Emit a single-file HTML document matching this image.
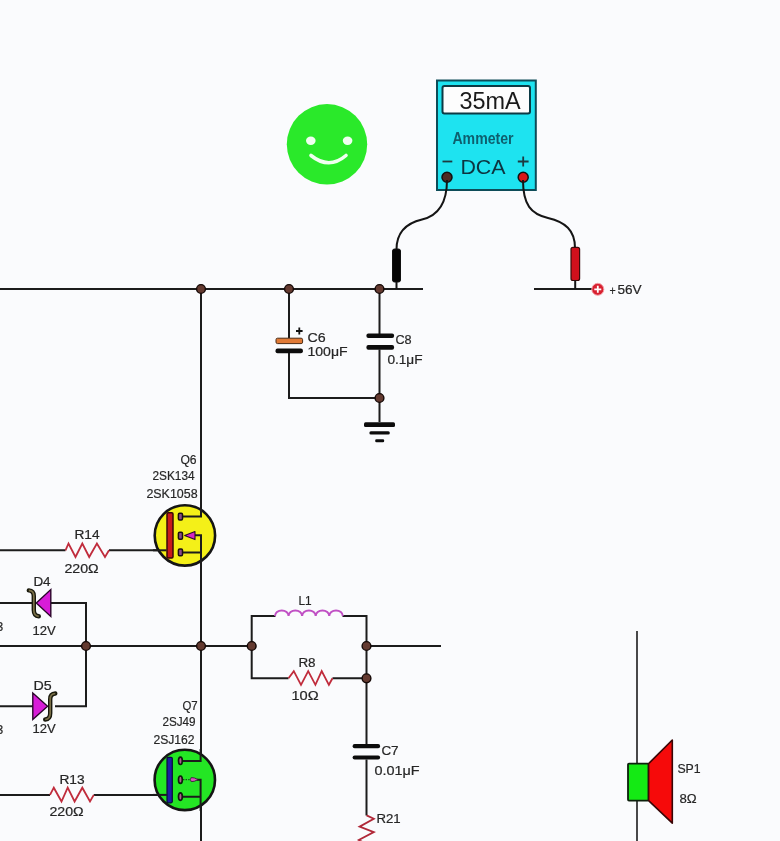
<!DOCTYPE html>
<html><head><meta charset="utf-8"><title>Circuit</title>
<style>
html,body{margin:0;padding:0;background:#fafbfd;}
body{width:780px;height:841px;overflow:hidden;}
svg{display:block;filter:blur(0.3px);}
text{font-family:"Liberation Sans",sans-serif;fill:#262626;}
.tx{filter:blur(0.15px);}
.lb{font-size:11.5px;}
</style></head>
<body>
<svg width="780" height="841" viewBox="0 0 780 841">
<rect width="780" height="841" fill="#fafbfd"/>

<!-- ============ WIRES ============ -->
<g stroke="#1c1c1c" stroke-width="2" fill="none" stroke-linecap="butt">
  <!-- top rail -->
  <path d="M0,289 H423"/>
  <path d="M534,289 H592"/>
  <!-- main vertical -->
  <path d="M201,289 V516.5 H182"/>
  <path d="M201,535 V760.9 M201,779.7 V841"/>
  <!-- C6/C8 -->
  <path d="M289,289 V338 M289,353 V398 H379.5"/>
  <path d="M379.5,289 V334 M379.5,349.5 V422"/>
  <!-- Q6 internals -->
  <path d="M194,535 H201 M182,553 H201"/>
  <!-- R14 gate wire -->
  <path d="M0,550.3 H65.5 M109,550.3 H166.5"/>
  <!-- D4 -->
  <path d="M0,603 H36 M51,603 H86 V706.3 H55"/>
  <path d="M0,706.3 H33"/>
  <!-- mid rail -->
  <path d="M0,646 H251.7 M366.5,646 H441"/>
  <!-- L1 / R8 loops -->
  <path d="M251.7,646 V616 H275.5 M342.5,616 H366.5 V744"/>
  <path d="M251.7,646 V678.3 H288.5 M332.5,678.3 H366.5"/>
  <path d="M366.5,759.5 V815.5"/>
  <!-- Q7 -->
  <path d="M0,794.9 H50 M93.8,794.9 H166.8"/>
  <path d="M197,779.7 H201 M182,796.7 H201"/>
  <!-- speaker line -->
  <path d="M637,631 V841" stroke-width="1.6"/>
</g>

<!-- ============ NODES ============ -->
<g fill="#643a30" stroke="#140806" stroke-width="1.4">
  <circle cx="201" cy="289" r="4.4"/>
  <circle cx="289" cy="289" r="4.4"/>
  <circle cx="379.5" cy="289" r="4.4"/>
  <circle cx="379.5" cy="398" r="4.4"/>
  <circle cx="86" cy="646" r="4.4"/>
  <circle cx="201" cy="646" r="4.4"/>
  <circle cx="251.7" cy="646" r="4.4"/>
  <circle cx="366.5" cy="646" r="4.4"/>
  <circle cx="366.5" cy="678.3" r="4.4"/>
</g>

<!-- ============ SMILEY ============ -->
<circle cx="327" cy="144.3" r="40.2" fill="#2ae92a"/>
<ellipse cx="310.8" cy="140.7" rx="4.8" ry="4.2" fill="#f0fff0"/>
<ellipse cx="347.6" cy="140.7" rx="4.8" ry="4.2" fill="#f0fff0"/>
<path d="M311,155.5 Q329,170 346,155.5" stroke="#f0fff0" stroke-width="3.6" fill="none" stroke-linecap="round"/>

<!-- ============ AMMETER ============ -->
<rect x="437" y="80.5" width="98.8" height="109.5" fill="#1ee3f0" stroke="#0d4c58" stroke-width="2"/>
<rect x="442.5" y="86" width="87.5" height="27.5" rx="2" fill="#fdfdfd" stroke="#0d3a44" stroke-width="2"/>
<path d="M442.5,161.5 H452.3" stroke="#1d3a40" stroke-width="1.8"/>
<path d="M517.8,161.5 H528.6 M523.2,156.5 V166.5" stroke="#1d3a40" stroke-width="1.8"/>
<circle cx="447" cy="177.2" r="5" fill="#4e2a22" stroke="#111" stroke-width="1.5"/>
<circle cx="523.2" cy="177.2" r="5" fill="#d81818" stroke="#111" stroke-width="1.5"/>

<!-- probe leads -->
<path d="M447,180 C447,205 437,216 422,219.5 S396.5,232 396.5,249.5" stroke="#151515" stroke-width="2" fill="none"/>
<path d="M523,180 C523,205 531,214 548,218 S575,230 575,248" stroke="#151515" stroke-width="2" fill="none"/>
<rect x="392.5" y="249" width="8" height="33" rx="2" fill="#050505" stroke="#111" stroke-width="1"/>
<path d="M396.5,282 V289" stroke="#151515" stroke-width="2"/>
<rect x="571" y="247.3" width="8.6" height="33.2" rx="2" fill="#d0101c" stroke="#3a0a0a" stroke-width="1.2"/>
<path d="M575.2,280.5 V289" stroke="#151515" stroke-width="2"/>
<!-- +56V terminal -->
<circle cx="597.8" cy="289.3" r="6" fill="#d82030" stroke="#f3a0a8" stroke-width="1"/>
<path d="M594.3,289.3 H601.3 M597.8,285.8 V292.8" stroke="#fff" stroke-width="1.8"/>

<!-- ============ C6 / C8 ============ -->
<rect x="276" y="338.2" width="26.6" height="5.4" rx="1.5" fill="#e07a36" stroke="#4a2a14" stroke-width="1"/>
<rect x="275.5" y="348.6" width="27.4" height="4.7" rx="2" fill="#0c0c0c"/>
<path d="M296,331 H302.6 M299.3,327.6 V334.4" stroke="#111" stroke-width="1.8"/>
<rect x="366.4" y="333.4" width="27.7" height="4.7" rx="2" fill="#0c0c0c"/>
<rect x="366.4" y="345" width="27.7" height="4.7" rx="2" fill="#0c0c0c"/>
<!-- ground -->
<rect x="364" y="422.2" width="31" height="4.8" rx="1.5" fill="#0c0c0c"/>
<rect x="369.4" y="431.3" width="20.4" height="3.3" rx="1.5" fill="#0c0c0c"/>
<rect x="375.2" y="439.3" width="9" height="2.9" rx="1.3" fill="#0c0c0c"/>

<!-- ============ Q6 ============ -->
<circle cx="184.9" cy="535.4" r="30.2" fill="#f4f018" stroke="#151515" stroke-width="2.6"/>
<path d="M201,505 V516.5 H182.5" stroke="#1c1c1c" stroke-width="2" fill="none"/>
<path d="M194,535.3 H201 V566 M182.5,552.4 H201" stroke="#1c1c1c" stroke-width="2" fill="none"/>
<path d="M153,550.3 H166.5" stroke="#1c1c1c" stroke-width="2"/>
<rect x="167" y="512.8" width="6" height="45.2" rx="1.2" fill="#c81a1a" stroke="#3a0808" stroke-width="1.5"/>
<g fill="#8a4a8a" stroke="#1a1010" stroke-width="1.5">
  <rect x="178.4" y="513.2" width="4.1" height="6.8" rx="1.2"/>
  <rect x="178.4" y="532.2" width="4.1" height="7" rx="1.2"/>
  <rect x="178.4" y="549" width="4.1" height="6.8" rx="1.2"/>
</g>
<path d="M184.6,535.4 L195,531.6 L195,539.6 Z" fill="#d824c4" stroke="#2a0a2a" stroke-width="1.1" stroke-linejoin="round"/>

<!-- R14 -->
<path d="M65.5,550.3 L68.5,543.5 L75.5,557 L82.3,543.5 L89.2,557 L96.9,543.5 L105,557 L109,550.3" stroke="#c02c3c" stroke-width="1.8" fill="none" stroke-linejoin="miter"/>

<!-- ============ D4 / D5 ============ -->
<path d="M36.3,603.1 L50.8,589.6 L50.8,616.5 Z" fill="#d81cd8" stroke="#2a062a" stroke-width="1.4" stroke-linejoin="miter"/>
<path d="M28.8,590.4 C32,590.6 33.8,592 33.8,596 L33.8,610 C33.8,614 35.5,616 38.8,616.3" stroke="#18180c" stroke-width="4.4" fill="none" stroke-linecap="round"/>
<path d="M28.8,590.4 C32,590.6 33.8,592 33.8,596 L33.8,610 C33.8,614 35.5,616 38.8,616.3" stroke="#7a7048" stroke-width="1.7" fill="none" stroke-linecap="butt"/>

<path d="M47.6,706.3 L32.8,693.1 L32.8,719.4 Z" fill="#d81cd8" stroke="#2a062a" stroke-width="1.4" stroke-linejoin="miter"/>
<path d="M55.3,693.5 C52,693.7 50.2,695.2 50.2,699.2 L50.2,713.2 C50.2,717.2 48.5,719.2 45.2,719.5" stroke="#18180c" stroke-width="4.4" fill="none" stroke-linecap="round"/>
<path d="M55.3,693.5 C52,693.7 50.2,695.2 50.2,699.2 L50.2,713.2 C50.2,717.2 48.5,719.2 45.2,719.5" stroke="#7a7048" stroke-width="1.7" fill="none" stroke-linecap="butt"/>
<!-- cut-off labels at left edge -->

<!-- ============ L1 / R8 ============ -->
<path d="M275,616 a6.78,5.6 0 0 1 13.56,0 a6.78,5.6 0 0 1 13.56,0 a6.78,5.6 0 0 1 13.56,0 a6.78,5.6 0 0 1 13.56,0 a6.78,5.6 0 0 1 13.56,0" stroke="#c050c4" stroke-width="2" fill="none"/>
<path d="M288.5,678.3 L293.8,671.1 L301,684.8 L308.2,671.1 L315.4,684.8 L321.7,671.1 L328.9,684.8 L332.5,678.3" stroke="#c02c3c" stroke-width="1.8" fill="none"/>

<!-- ============ C7 / R21 ============ -->
<rect x="352.6" y="744.1" width="27.5" height="4.2" rx="2" fill="#0c0c0c"/>
<rect x="352.6" y="755.4" width="27.5" height="4.2" rx="2" fill="#0c0c0c"/>
<path d="M366.6,815.4 L373.8,818.8 L359.6,826.7 L373.8,832.1 L358.8,840 L366,844" stroke="#b02838" stroke-width="1.8" fill="none"/>

<!-- ============ Q7 ============ -->
<circle cx="184.8" cy="779.9" r="30.2" fill="#24e624" stroke="#151515" stroke-width="2.6"/>
<path d="M200.6,749 V760.9 H182" stroke="#1c1c1c" stroke-width="2" fill="none"/>
<path d="M197,779.7 H200.6 V811 M182,796.7 H200.6" stroke="#1c1c1c" stroke-width="2" fill="none"/>
<path d="M153,794.9 H166.8" stroke="#1c1c1c" stroke-width="2"/>
<rect x="167" y="757.3" width="5.3" height="45.5" rx="1.2" fill="#1c1ca0" stroke="#0a0a3a" stroke-width="1.2"/>
<g fill="#b25a92" stroke="#0e1a0e" stroke-width="1.7">
  <ellipse cx="180.4" cy="760.8" rx="1.9" ry="3.7"/>
  <ellipse cx="180.4" cy="779.7" rx="1.9" ry="3.7"/>
  <ellipse cx="180.4" cy="796.6" rx="1.9" ry="3.7"/>
</g>
<path d="M183,779.6 H190" stroke="#1a4a1a" stroke-width="1.2" stroke-dasharray="1.4,1.2"/>
<path d="M198.2,779.6 Q194,777.3 191.2,777.6 Q189.6,779.6 191.2,781.6 Q194,781.9 198.2,779.6 Z" fill="#d858c0" stroke="#3a1a3a" stroke-width="0.9"/>

<!-- R13 -->
<path d="M50,794.9 L53.8,787.7 L61.5,801.5 L67.7,787.7 L74.6,801.5 L82.3,787.7 L90,801.5 L93.8,794.9" stroke="#c02c3c" stroke-width="1.8" fill="none"/>

<!-- ============ SPEAKER ============ -->
<rect x="628" y="763.6" width="20.6" height="37" rx="1" fill="#14ea14" stroke="#0c200c" stroke-width="1.8"/>
<path d="M648.6,763.6 L672.3,740 L672.3,823.2 L648.6,800.6 Z" fill="#f60a0a" stroke="#3a0606" stroke-width="1.6" stroke-linejoin="round"/>
<g class="tx"><text x="459.40" y="108.90" style="font-size:23.00px;fill:#1a1a1a" textLength="61.20" lengthAdjust="spacingAndGlyphs">35mA</text>
<text x="452.40" y="143.80" style="font-size:17.00px;font-weight:bold;fill:#0e5f6e" textLength="61.20" lengthAdjust="spacingAndGlyphs">Ammeter</text>
<text x="460.40" y="173.80" style="font-size:20.00px;fill:#0d3440" textLength="45.20" lengthAdjust="spacingAndGlyphs">DCA</text>
<text x="609.40" y="295.00" style="font-size:12.00px;stroke:#262626;stroke-width:0.2" textLength="6.20" lengthAdjust="spacingAndGlyphs">+</text>
<text x="617.40" y="294.10" style="font-size:12.00px;stroke:#262626;stroke-width:0.2" textLength="24.20" lengthAdjust="spacingAndGlyphs">56V</text>
<text x="307.40" y="342.20" style="font-size:12.00px;stroke:#262626;stroke-width:0.2" textLength="18.20" lengthAdjust="spacingAndGlyphs">C6</text>
<text x="307.40" y="356.20" style="font-size:12.00px;stroke:#262626;stroke-width:0.2" textLength="40.20" lengthAdjust="spacingAndGlyphs">100μF</text>
<text x="395.40" y="344.20" style="font-size:12.00px;stroke:#262626;stroke-width:0.2" textLength="16.20" lengthAdjust="spacingAndGlyphs">C8</text>
<text x="387.40" y="364.20" style="font-size:12.00px;stroke:#262626;stroke-width:0.2" textLength="35.20" lengthAdjust="spacingAndGlyphs">0.1μF</text>
<text x="180.40" y="464.20" style="font-size:12.00px;stroke:#262626;stroke-width:0.2" textLength="16.20" lengthAdjust="spacingAndGlyphs">Q6</text>
<text x="152.40" y="479.60" style="font-size:12.00px;stroke:#262626;stroke-width:0.2" textLength="42.20" lengthAdjust="spacingAndGlyphs">2SK134</text>
<text x="146.40" y="497.80" style="font-size:12.00px;stroke:#262626;stroke-width:0.2" textLength="51.20" lengthAdjust="spacingAndGlyphs">2SK1058</text>
<text x="74.40" y="538.70" style="font-size:12.00px;stroke:#262626;stroke-width:0.2" textLength="25.20" lengthAdjust="spacingAndGlyphs">R14</text>
<text x="64.40" y="572.50" style="font-size:12.00px;stroke:#262626;stroke-width:0.2" textLength="34.20" lengthAdjust="spacingAndGlyphs">220Ω</text>
<text x="33.40" y="586.30" style="font-size:12.00px;stroke:#262626;stroke-width:0.2" textLength="17.20" lengthAdjust="spacingAndGlyphs">D4</text>
<text x="32.40" y="634.60" style="font-size:12.00px;stroke:#262626;stroke-width:0.2" textLength="23.20" lengthAdjust="spacingAndGlyphs">12V</text>
<text x="33.40" y="690.30" style="font-size:12.00px;stroke:#262626;stroke-width:0.2" textLength="18.20" lengthAdjust="spacingAndGlyphs">D5</text>
<text x="32.40" y="733.10" style="font-size:12.00px;stroke:#262626;stroke-width:0.2" textLength="23.20" lengthAdjust="spacingAndGlyphs">12V</text>
<text x="298.40" y="605.40" style="font-size:12.00px;stroke:#262626;stroke-width:0.2" textLength="13.20" lengthAdjust="spacingAndGlyphs">L1</text>
<text x="298.40" y="666.90" style="font-size:12.00px;stroke:#262626;stroke-width:0.2" textLength="17.20" lengthAdjust="spacingAndGlyphs">R8</text>
<text x="291.40" y="700.00" style="font-size:12.00px;stroke:#262626;stroke-width:0.2" textLength="27.20" lengthAdjust="spacingAndGlyphs">10Ω</text>
<text x="182.40" y="709.50" style="font-size:12.00px;stroke:#262626;stroke-width:0.2" textLength="15.20" lengthAdjust="spacingAndGlyphs">Q7</text>
<text x="162.40" y="726.10" style="font-size:12.00px;stroke:#262626;stroke-width:0.2" textLength="33.20" lengthAdjust="spacingAndGlyphs">2SJ49</text>
<text x="153.40" y="744.10" style="font-size:12.00px;stroke:#262626;stroke-width:0.2" textLength="41.20" lengthAdjust="spacingAndGlyphs">2SJ162</text>
<text x="59.40" y="783.70" style="font-size:12.00px;stroke:#262626;stroke-width:0.2" textLength="25.20" lengthAdjust="spacingAndGlyphs">R13</text>
<text x="49.40" y="816.30" style="font-size:12.00px;stroke:#262626;stroke-width:0.2" textLength="34.20" lengthAdjust="spacingAndGlyphs">220Ω</text>
<text x="381.40" y="754.70" style="font-size:12.00px;stroke:#262626;stroke-width:0.2" textLength="17.20" lengthAdjust="spacingAndGlyphs">C7</text>
<text x="374.40" y="774.70" style="font-size:12.00px;stroke:#262626;stroke-width:0.2" textLength="45.20" lengthAdjust="spacingAndGlyphs">0.01μF</text>
<text x="376.40" y="823.40" style="font-size:12.00px;stroke:#262626;stroke-width:0.2" textLength="24.20" lengthAdjust="spacingAndGlyphs">R21</text>
<text x="677.40" y="773.10" style="font-size:12.00px;stroke:#262626;stroke-width:0.2" textLength="23.20" lengthAdjust="spacingAndGlyphs">SP1</text>
<text x="679.40" y="803.10" style="font-size:12.00px;stroke:#262626;stroke-width:0.2" textLength="17.20" lengthAdjust="spacingAndGlyphs">8Ω</text>
<text x="-3.6" y="630.8" class="lb" style="font-size:12px;stroke:#262626;stroke-width:0.2">3</text>
<text x="-3.6" y="734" class="lb" style="font-size:12px;stroke:#262626;stroke-width:0.2">3</text></g>
</svg>
</body></html>
